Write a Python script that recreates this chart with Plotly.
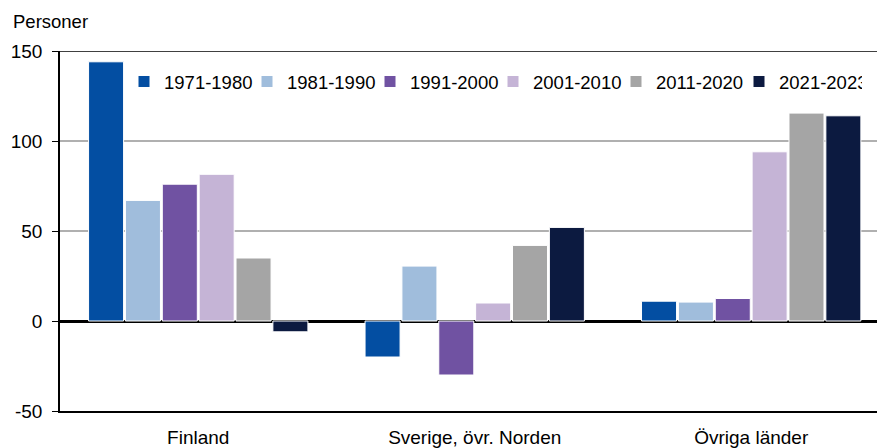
import plotly.graph_objects as go

categories = ["Finland", "Sverige, övr. Norden", "Övriga länder"]
series_names = ["1971-1980", "1981-1990", "1991-2000", "2001-2010", "2011-2020", "2021-2023"]
v_1971_1980 = [144, -20, 11]
v_1981_1990 = [67, 30.5, 10.5]
v_1991_2000 = [76, -30, 12.5]
v_2001_2010 = [81.5, 10, 94]
v_2011_2020 = [35, 42, 115.5]
v_2021_2023 = [-6, 52, 114]
series_values = [v_1971_1980, v_1981_1990, v_1991_2000, v_2001_2010, v_2011_2020, v_2021_2023]
colors = ["#034EA2", "#A0BDDC", "#7052A2", "#C5B4D6", "#A5A5A5", "#0C1A40"]
y_ticks = [-50, 0, 50, 100, 150]
y_ticktext = ["-50", "0", "50", "100", "150"]

FONT = "Liberation Sans, Arial, sans-serif"

fig = go.Figure()
for name, vals, c in zip(series_names, series_values, colors):
    fig.add_trace(go.Bar(name=name, x=categories, y=vals,
                         marker=dict(color=c, line=dict(color="white", width=1))))

fig.update_layout(
    width=877, height=448,
    margin=dict(l=60, r=0, t=51, b=37, autoexpand=False),
    paper_bgcolor="white", plot_bgcolor="white",
    barmode="group", bargap=0.2, bargroupgap=0.05,
    font=dict(family=FONT, size=18.5, color="#000000"),
    legend=dict(orientation="h", x=0.530, xanchor="center", y=0.914, yanchor="middle",
                font=dict(size=18.5), itemwidth=30, traceorder="normal",
                entrywidth=78, entrywidthmode="pixels",
                bgcolor="rgba(0,0,0,0)"),
    xaxis=dict(showgrid=False, showline=True, linecolor="black", linewidth=1.5,
               range=[-0.5, 2.455],
               ticks="", ticklabelstandoff=8, tickfont=dict(size=19), automargin=False),
    yaxis=dict(range=[-50, 150], tickvals=y_ticks, ticktext=y_ticktext, showgrid=True,
               gridcolor="#B0B0B0", gridwidth=1.5, showline=True, linecolor="black",
               linewidth=1.5, ticks="outside", ticklen=6, tickcolor="black",
               tickfont=dict(size=19), automargin=False, ticklabelstandoff=6,
               zeroline=True, zerolinecolor="black", zerolinewidth=2.5),
    annotations=[dict(text="Personer", x=0, xref="paper", xshift=-49, xanchor="left",
                      y=1, yref="paper", yshift=30, yanchor="middle", showarrow=False,
                      font=dict(size=18.5))],
    shapes=[dict(type="line", xref="paper", yref="y", x0=0, x1=1, y0=150, y1=150,
                 line=dict(color="black", width=1.5))],
)

fig.write_html("out.html", config={"displayModeBar": False})
with open("out.html", "r", encoding="utf-8") as f:
    html = f.read()
html = html.replace("<body>", '<body style="margin:0;padding:0;">', 1)
with open("out.html", "w", encoding="utf-8") as f:
    f.write(html)
